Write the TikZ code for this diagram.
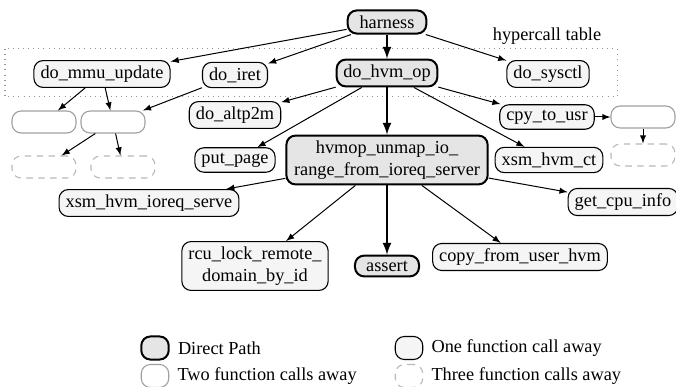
\documentclass[tikz,border=0pt]{standalone}
\usepackage{fontspec}
\setmainfont{Liberation Serif}
\usetikzlibrary{positioning}

\tikzset{
    fn/.style={draw, rounded corners=5pt, inner xsep=3.6pt, inner ysep=2.8pt, align=center},
    direct/.style={fn, fill=gray!20, line width=1.1pt},
    onecall/.style={fn, fill=gray!8, line width=0.6pt},
    twocall/.style={fn, draw=gray!75, line width=0.6pt, minimum width=35pt, minimum height=12pt},
    threecall/.style={fn, draw=gray!55, dash pattern=on 3.5pt off 3pt, line width=0.6pt, minimum width=35pt, minimum height=12pt},
    legendbox/.style={minimum width=15pt, minimum height=12.6pt, inner sep=0pt},
    call/.style={-latex, line width=0.55pt},
    dcall/.style={-latex, line width=1.2pt},
}

\begin{document}
\begin{tikzpicture}[x=0.5466pt, y=-0.5466pt, font=\fontsize{10}{12}\selectfont]
    \useasboundingbox (0,0) rectangle (676,387);
    \draw [draw=gray!85, dash pattern=on 0.5pt off 2.3pt, line width=0.55pt] (5,49) rectangle (617,97);
    \node (hctable) at (547,36) {hypercall table};

    \node [direct, minimum width=43pt] (harness) at (387,22) {harness};
    \node [onecall] (mmu) at (102,74) {do\_mmu\_update};
    \node [onecall] (iret) at (235,75) {do\_iret};
    \node [direct] (hvmop) at (387,73) {do\_hvm\_op};
    \node [onecall] (sysctl) at (548,74) {do\_sysctl};
    \node [onecall] (altp) at (235,115) {do\_altp2m};
    \node [onecall] (putpage) at (235,160) {put\_page};
    \node [direct, minimum width=110pt] (unmap) at (387,160) {hvmop\_unmap\_io\_\\range\_from\_ioreq\_server};
    \node [onecall] (cpytousr) at (547,117) {cpy\_to\_usr};
    \node [onecall] (xsmct) at (549,160) {xsm\_hvm\_ct};
    \node [onecall] (ioreq) at (149,203) {xsm\_hvm\_ioreq\_serve};
    \node [onecall] (cpuinfo) at (623,202) {get\_cpu\_info};
    \node [onecall] (rcu) at (255,266) {rcu\_lock\_remote\_\\domain\_by\_id};
    \node [direct, minimum width=35pt] (assert) at (387,266) {assert};
    \node [onecall] (copyfrom) at (520,257) {copy\_from\_user\_hvm};

    \node [twocall] (mmua) at (44,122) {};
    \node [twocall] (mmub) at (113,122) {};
    \node [threecall] (mmuc) at (44,167) {};
    \node [threecall] (mmud) at (123,167) {};
    \node [twocall] (usra) at (643,117) {};
    \node [threecall] (usrb) at (643,155) {};

    \path [call]
    (harness) edge (mmu)
    (harness) edge (iret)
    (harness) edge (sysctl)
    (hvmop) edge (altp)
    (hvmop) edge (putpage)
    (hvmop) edge (cpytousr)
    (hvmop) edge (xsmct)
    (mmu) edge (mmua)
    (mmu) edge (mmub)
    (iret) edge (mmub)
    (mmub) edge (mmuc)
    (mmub) edge (mmud)
    (cpytousr) edge (usra)
    (usra) edge (usrb)
    (unmap) edge (ioreq)
    (unmap) edge (rcu)
    (unmap) edge (copyfrom)
    (unmap) edge (cpuinfo)
    ;
    \path [dcall]
    (harness) edge (hvmop)
    (hvmop) edge (unmap)
    (unmap) edge (assert)
    ;

    \node [direct, legendbox] (lgdirect) at (155,348) {};
    \node [right=1pt of lgdirect] (lgdirecttxt) {Direct Path};
    \node [onecall, legendbox] (lgone) at (409,348) {};
    \node [right=1pt of lgone] (lgonetxt) {One function call away};
    \node [twocall, legendbox] (lgtwo) at (155,376) {};
    \node [right=1pt of lgtwo] (lgtwotxt) {Two function calls away};
    \node [threecall, legendbox] (lgthree) at (409,376) {};
    \node [right=1pt of lgthree] (lgthreetxt) {Three function calls away};
\end{tikzpicture}
\end{document}
